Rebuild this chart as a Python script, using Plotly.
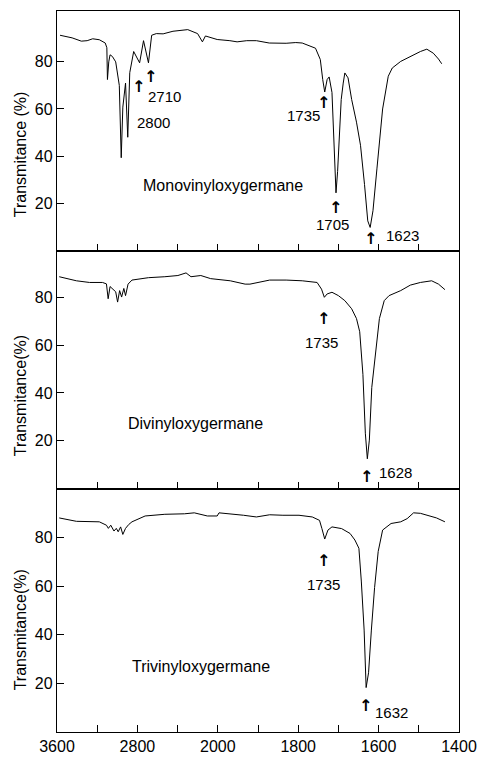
import numpy as np
import plotly.graph_objects as go
from plotly.subplots import make_subplots

# ---------------- data (wavenumber cm-1, transmittance %) ----------------
mono_wn = [3570, 3450, 3358, 3300, 3245, 3179, 3120, 3104, 3098, 3085, 3072, 3049, 3016,
           2980, 2961, 2952, 2945, 2918, 2896, 2876, 2837, 2778, 2739, 2690, 2658, 2612,
           2544, 2446, 2299, 2201, 2153, 2123, 2006, 1970, 1952, 1928, 1904, 1872, 1830,
           1806, 1790, 1757, 1745, 1739, 1734, 1728, 1723, 1716, 1710, 1706, 1702, 1693,
           1688, 1684, 1676, 1667, 1655, 1645, 1635, 1627, 1621, 1614, 1604, 1590, 1576,
           1566, 1545, 1529, 1513, 1496, 1480, 1464, 1451, 1443]
mono_t = [91.3, 90.2, 88.8, 89.0, 89.8, 89.4, 88.0, 86.0, 72.5, 80.0, 83.0, 82.3, 80.0,
          70.0, 39.3, 55.0, 60.8, 71.0, 48.0, 75.4, 84.4, 79.6, 89.0, 79.6, 91.3, 92.0,
          91.9, 93.0, 93.7, 92.0, 88.5, 91.0, 89.5, 89.0, 88.5, 89.0, 89.0, 88.0, 87.9,
          88.2, 88.0, 85.8, 81.0, 72.5, 67.2, 72.5, 73.6, 67.0, 36.0, 24.4, 33.5, 64.0,
          71.0, 75.3, 73.2, 64.0, 54.4, 44.6, 27.9, 12.5, 9.7, 16.8, 34.9, 60.0, 73.9,
          77.4, 80.2, 81.6, 83.0, 84.4, 85.4, 83.7, 81.2, 79.2]

di_wn = [3578, 3407, 3277, 3147, 3108, 3091, 3072, 3049, 3016, 2997, 2977, 2957, 2935,
         2918, 2893, 2854, 2690, 2527, 2397, 2316, 2267, 2169, 2071, 1969, 1953, 1932,
         1920, 1871, 1830, 1790, 1753, 1742, 1735, 1728, 1716, 1700, 1684, 1667, 1655,
         1647, 1639, 1633, 1628, 1623, 1617, 1606, 1598, 1586, 1574, 1545, 1521, 1496,
         1468, 1451, 1435]
di_t = [88.6, 86.9, 86.2, 86.2, 85.6, 79.4, 84.5, 83.7, 82.3, 78.0, 82.8, 80.1, 83.7,
        80.7, 85.5, 87.2, 88.2, 88.6, 89.1, 90.2, 88.6, 89.1, 87.8, 86.9, 86.2, 85.5,
        85.5, 87.2, 87.2, 86.9, 86.2, 83.4, 80.0, 81.4, 82.1, 80.7, 78.6, 75.2, 71.1,
        65.6, 47.8, 23.2, 12.5, 20.3, 42.3, 60.0, 71.1, 78.6, 80.7, 82.8, 85.1, 86.2,
        86.9, 85.5, 83.2]

tri_wn = [3578, 3407, 3179, 3108, 3089, 3065, 3033, 3010, 2991, 2967, 2945, 2918, 2886,
          2854, 2723, 2527, 2332, 2234, 2104, 2006, 1997, 1969, 1953, 1936, 1904, 1871,
          1838, 1798, 1765, 1747, 1741, 1734, 1726, 1716, 1692, 1671, 1659, 1649, 1643,
          1636, 1631, 1625, 1618, 1610, 1601, 1590, 1569, 1545, 1529, 1513, 1496, 1480,
          1456, 1435]
tri_t = [88.1, 86.7, 86.5, 85.1, 83.8, 85.1, 82.7, 83.8, 82.4, 84.4, 81.3, 83.8, 85.4,
         86.5, 88.9, 89.6, 89.8, 90.2, 88.9, 88.9, 90.2, 89.8, 89.4, 89.2, 88.5, 89.4,
         89.2, 89.2, 88.5, 87.1, 83.7, 79.4, 83.1, 84.4, 83.7, 81.7, 79.0, 75.6, 62.1,
         41.9, 18.2, 24.3, 41.9, 59.4, 74.3, 83.1, 85.8, 86.5, 87.8, 90.2, 90.0, 89.2,
         88.1, 86.5]

tick_wn = [3600, 3200, 2800, 2400, 2000, 1900, 1800, 1700, 1600, 1500, 1400]
tick_text = ["3600", "", "2800", "", "2000", "", "1800", "", "1600", "", "1400"]
y_ticks = [20, 40, 60, 80]
names = ["Monovinyloxygermane", "Divinyloxygermane", "Trivinyloxygermane"]
y_titles = ["Transmitance (%)", "Transmitance(%)", "Transmitance(%)"]


# instrument chart scale: 400 cm-1 per division above 2000, 100 cm-1 per division below
def pos(w):
    w = np.asarray(w, dtype=float)
    return np.where(w >= 2000, (3600 - w) / 400.0, 4 + (2000 - w) / 100.0)


fig = make_subplots(rows=3, cols=1, shared_xaxes=True, vertical_spacing=0,
                    row_heights=[244, 242, 247])

for i, (wn, t) in enumerate([(mono_wn, mono_t), (di_wn, di_t), (tri_wn, tri_t)]):
    fig.add_trace(go.Scatter(x=pos(wn), y=t, mode="lines",
                             line=dict(color="black", width=1.0),
                             showlegend=False, hoverinfo="skip"), row=i + 1, col=1)

FONT = "Liberation Sans, Arial, sans-serif"
axis_common = dict(showline=True, linecolor="black", linewidth=1.3, mirror=True,
                   ticks="inside", ticklen=7, tickwidth=1.2, tickcolor="black",
                   showgrid=False, zeroline=False,
                   tickfont=dict(family=FONT, size=16, color="black"))

yranges = [[-0.3, 101.6], [-0.15, 99.35], [-0.1, 100.0]]
for i in range(3):
    fig.update_xaxes(range=[0, 10], tickvals=list(pos(tick_wn)), ticktext=tick_text,
                     row=i + 1, col=1, **axis_common)
    fig.update_yaxes(range=yranges[i], tickvals=y_ticks, row=i + 1, col=1, **axis_common)

fig.update_xaxes(showticklabels=False, row=1, col=1)
fig.update_xaxes(showticklabels=False, row=2, col=1)

ann = []
# y-axis titles
for ytxt, yp in zip(y_titles, [0.8008, 0.4666, 0.1419]):
    ann.append(dict(text=ytxt, xref="paper", yref="paper", x=-0.0905, y=yp,
                    textangle=-90, showarrow=False, xanchor="center", yanchor="middle",
                    font=dict(family=FONT, size=16, color="black")))

# compound names
for (nm, xr, yr, yv, xv) in [(names[0], "x", "y", 27.7, 4.12),
                             (names[1], "x2", "y2", 27.3, 3.45),
                             (names[2], "x3", "y3", 27.0, 3.57)]:
    ann.append(dict(text=nm, xref=xr, yref=yr, x=xv, y=yv, showarrow=False,
                    font=dict(family=FONT, size=16, color="black")))

# band labels: (text, xref, yref, x, y)
labels = [("2800", "x", "y", 2.40, 54.2), ("2710", "x", "y", 2.67, 65.4),
          ("1735", "x", "y", 6.14, 57.1), ("1705", "x", "y", 6.86, 11.1),
          ("1623", "x", "y", 8.59, 6.4),
          ("1735", "x2", "y2", 6.57, 61.0), ("1628", "x2", "y2", 8.41, 6.7),
          ("1735", "x3", "y3", 6.63, 60.8), ("1632", "x3", "y3", 8.33, 8.0)]
for (tx, xr, yr, xv, yv) in labels:
    ann.append(dict(text=tx, xref=xr, yref=yr, x=xv, y=yv, showarrow=False,
                    font=dict(family=FONT, size=15, color="black")))

arrows = [("x", "y", 2.03, 69.4), ("x", "y", 2.32, 73.6), ("x", "y", 6.63, 62.8),
          ("x", "y", 6.92, 18.1), ("x", "y", 7.79, 5.1),
          ("x2", "y2", 6.63, 71.3), ("x2", "y2", 7.71, 5.3),
          ("x3", "y3", 6.63, 70.7), ("x3", "y3", 7.67, 10.9)]
for (xr, yr, xv, yv) in arrows:
    ann.append(dict(text="<b>↑</b>", xref=xr, yref=yr, x=xv, y=yv, showarrow=False,
                    font=dict(family="DejaVu Sans", size=16, color="black")))

fig.update_layout(width=487, height=765, margin=dict(l=57, r=21, t=10, b=22),
                  paper_bgcolor="white", plot_bgcolor="white", annotations=ann,
                  font=dict(family=FONT, color="black"))

fig.write_html("out.html")
